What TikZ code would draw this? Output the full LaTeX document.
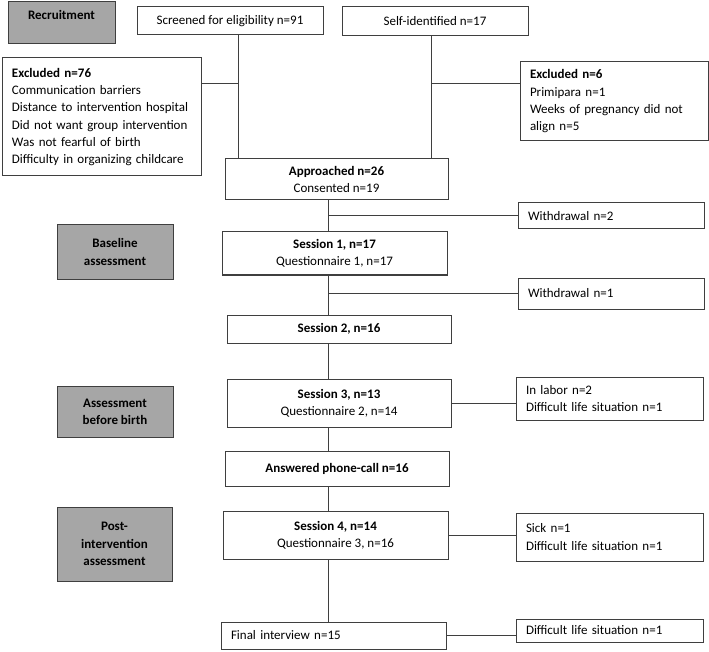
\documentclass[tikz,border=0pt]{standalone}
\usepackage{fontspec}
\setmainfont{Carlito}
\usepackage{tikz}
\definecolor{FlowInk}{HTML}{3F3F3F}
\definecolor{PhaseGray}{HTML}{A6A6A6}
\newcommand{\flowsize}{\fontsize{13pt}{17.3pt}\selectfont}

\begin{document}
\begin{tikzpicture}[x=1pt,y=-1pt,font=\flowsize,
    boxsize/.style 2 args={minimum width=#1,minimum height=#2},
    phasebox/.style={draw=FlowInk,line width=1pt,fill=PhaseGray,font=\flowsize\bfseries,align=center,inner sep=0pt},
    flowbox/.style={draw=FlowInk,line width=1pt,fill=white,align=center,inner sep=0pt},
    sidebox/.style={draw=FlowInk,line width=1pt,fill=white,align=left,inner xsep=10pt,inner ysep=0pt},
    link/.style={draw=FlowInk,line width=1pt}]
  \useasboundingbox (0,0) rectangle (709,652);
  % phases
  \node[phasebox,boxsize={107pt}{42pt},text height=18pt,text depth=24pt] (recruit) at (61.5,23) {Recruitment};
  \node[phasebox,boxsize={116pt}{54pt}] (baseline) at (115,252) {Baseline\\assessment};
  \node[phasebox,boxsize={116pt}{51pt}] (before) at (115,411.5) {Assessment\\before birth};
  \node[phasebox,boxsize={115pt}{74pt}] (post) at (114.5,544) {Post-\\intervention\\assessment};
  % recruitment
  \node[flowbox,boxsize={186pt}{28pt}] (screened) at (230,21) {Screened for eligibility n=91};
  \node[flowbox,boxsize={186pt}{29pt}] (selfid) at (435,21.5) {Self-identified n=17};
  \node[sidebox,boxsize={199pt}{118pt},text width=179pt] (excl76) at (101.5,117)
    {\textbf{Excluded n=76}\\Communication barriers\\Distance to intervention hospital\\Did not want group intervention\\Was not fearful of birth\\Difficulty in organizing childcare};
  \node[sidebox,boxsize={188pt}{79pt},text width=168pt] (excl6) at (614,101.5)
    {\textbf{Excluded n=6}\\Primipara n=1\\Weeks of pregnancy did not\\align n=5};
  \node[flowbox,boxsize={223pt}{41pt}] (appr) at (336.5,179.5) {\textbf{Approached n=26}\\Consented n=19};
  \node[sidebox,boxsize={186pt}{26pt},text width=166pt] (wd2) at (611,216) {Withdrawal n=2};
  % sessions
  \node[flowbox,boxsize={225pt}{43pt}] (s1) at (334.5,253.5) {\textbf{Session 1, n=17}\\Questionnaire 1, n=17};
  \node[sidebox,boxsize={186pt}{31pt},text width=166pt] (wd1) at (611,293.5) {Withdrawal n=1};
  \node[flowbox,boxsize={224pt}{28pt}] (s2) at (339,329) {\textbf{Session 2, n=16}};
  \node[flowbox,boxsize={224pt}{48pt}] (s3) at (339,403) {\textbf{Session 3, n=13}\\Questionnaire 2, n=14};
  \node[sidebox,boxsize={187pt}{43pt},text width=167pt] (labor) at (609.5,398.5) {In labor n=2\\Difficult life situation n=1};
  \node[flowbox,boxsize={224pt}{35pt}] (phone) at (337,468.5) {\textbf{Answered phone-call n=16}};
  \node[flowbox,boxsize={225pt}{48pt}] (s4) at (335.5,535) {\textbf{Session 4, n=14}\\Questionnaire 3, n=16};
  \node[sidebox,boxsize={187pt}{48pt},text width=167pt] (sick) at (609.5,537) {Sick n=1\\Difficult life situation n=1};
  \node[sidebox,boxsize={225pt}{27pt},text width=205pt] (final) at (333.5,635.5) {Final interview n=15};
  \node[sidebox,boxsize={187pt}{23pt},text width=167pt] (difficult) at (609.5,630.5) {Difficult life situation n=1};
  % connectors
  \coordinate (jscr) at (238,84);
  \coordinate (jself) at (431,84);
  \coordinate (spine) at (328,0);
  \draw[link] (screened.south -| jscr) -- (appr.north -| jscr);
  \draw[link] (excl76.east |- jscr) -- (jscr);
  \draw[link] (selfid.south -| jself) -- (appr.north -| jself);
  \draw[link] (jself) -- (jself -| excl6.west);
  \draw[link] (appr.south -| spine) -- (s1.north -| spine);
  \draw[link] (spine |- wd2.west) -- (wd2.west);
  \draw[link] (s1.south -| spine) -- (s2.north -| spine);
  \draw[link] (spine |- wd1.west) -- (wd1.west);
  \draw[link] (s2.south -| spine) -- (s3.north -| spine);
  \draw[link] (s3.south -| spine) -- (phone.north -| spine);
  \draw[link] (phone.south -| spine) -- (s4.north -| spine);
  \draw[link] (s4.south -| spine) -- (final.north -| spine);
  \draw[link] (s3.east) -- (s3.east -| labor.west);
  \draw[link] (s4.east) -- (s4.east -| sick.west);
  \draw[link] (final.east) -- (final.east -| difficult.west);
\end{tikzpicture}
\end{document}
